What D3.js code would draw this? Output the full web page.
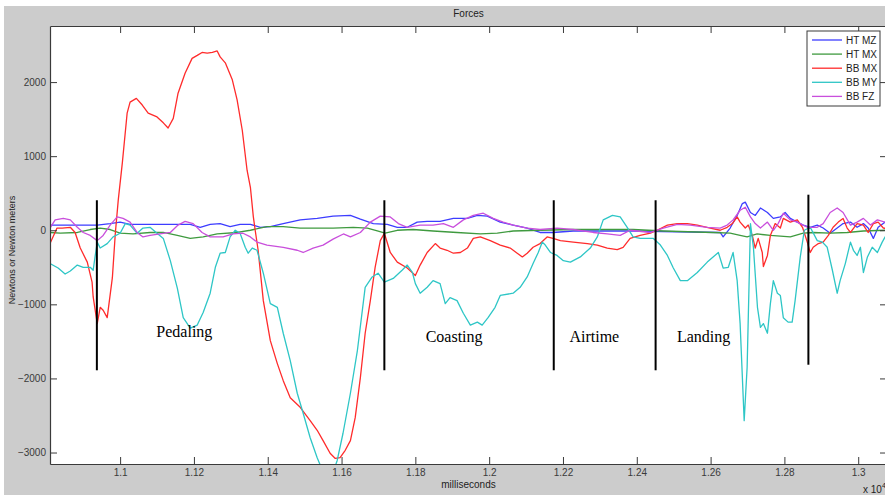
<!DOCTYPE html>
<html>
<head>
<meta charset="utf-8">
<script src="https://cdn.jsdelivr.net/npm/d3@7"></script>
<style>
  html, body { margin: 0; padding: 0; background: #ffffff; }
  svg { display: block; }
  text { font-family: Arial, "Liberation Sans", Helvetica, sans-serif; }
</style>
</head>
<body>
<script>
// Force / moment channels over one run, [time in ms, value]
const htMZ = [
  [10810,70],[10938,70],[10973,90],[11000,110],[11027,80],[11081,80],[11136,80],[11190,80],
  [11217,40],[11244,80],[11271,90],[11298,50],[11325,80],[11353,80],[11380,40],[11407,50],
  [11442,90],[11488,140],[11534,160],[11577,190],[11624,200],[11651,150],[11686,90],[11724,80],
  [11751,40],[11778,40],[11805,110],[11832,120],[11867,120],[11903,160],[11941,160],[11968,200],
  [11995,190],[12030,110],[12065,70],[12103,30],[12138,-30],[12173,-30],[12228,-10],[12301,-10],
  [12390,-10],[12626,-30],[12634,-90],[12653,30],[12672,200],[12686,360],[12694,380],[12708,240],
  [12721,200],[12735,300],[12754,240],[12770,160],[12789,180],[12802,240],[12816,160],[12835,110],
  [12851,70],[12870,40],[12889,70],[12905,30],[12924,-40],[12943,30],[12959,90],[12979,110],
  [12997,40],[13014,90],[13027,30],[13041,-110],[13054,40],[13073,110],[13085,100]
];
const htMX = [
  [10810,-30],[10838,-40],[10884,-30],[10919,10],[10946,30],[10973,10],[11000,-40],[11035,-50],
  [11081,-30],[11117,-30],[11155,-70],[11190,-110],[11225,-90],[11263,-50],[11317,-30],[11353,0],
  [11398,50],[11442,50],[11488,30],[11534,30],[11577,30],[11632,40],[11670,30],[11697,-10],
  [11718,-40],[11751,0],[11794,10],[11848,-10],[11913,-30],[11976,-50],[12022,-40],[12065,-10],
  [12138,0],[12228,10],[12320,10],[12390,10],[12472,-10],[12607,-30],[12653,-40],[12680,-70],
  [12699,-90],[12726,-50],[12762,-70],[12816,-90],[12851,-40],[12878,-30],[12924,-40],[12970,-30],
  [13014,-10],[13073,0],[13085,0]
];
const bbMX = [
  [10810,-180],[10829,30],[10843,30],[10865,40],[10878,-30],[10892,-240],[10911,-430],[10924,-700],
  [10927,-900],[10938,-1260],[10946,-1040],[10954,-1080],[10965,-1180],[10979,-640],[10987,-40],
  [10995,410],[11006,910],[11019,1580],[11027,1730],[11044,1780],[11060,1690],[11076,1580],
  [11100,1530],[11117,1450],[11130,1380],[11144,1510],[11157,1850],[11176,2120],[11195,2320],
  [11209,2360],[11222,2400],[11236,2390],[11250,2400],[11263,2420],[11271,2340],[11285,2260],
  [11304,2030],[11317,1760],[11331,1350],[11344,810],[11353,580],[11361,180],[11366,0],
  [11374,-270],[11388,-950],[11407,-1490],[11426,-1800],[11442,-2030],[11461,-2260],[11488,-2390],
  [11515,-2570],[11534,-2700],[11550,-2840],[11569,-3010],[11583,-3080],[11596,-3070],[11610,-2970],
  [11624,-2840],[11637,-2530],[11651,-1990],[11664,-1390],[11678,-950],[11691,-500],[11705,-140],
  [11716,-40],[11732,-300],[11751,-430],[11778,-510],[11800,-610],[11813,-470],[11832,-300],
  [11854,-180],[11867,-240],[11886,-270],[11903,-310],[11922,-300],[11941,-240],[11957,-110],
  [11976,-90],[12003,-140],[12030,-200],[12057,-240],[12076,-310],[12090,-360],[12103,-310],
  [12119,-230],[12138,-180],[12157,-90],[12173,-110],[12193,-140],[12228,-160],[12266,-180],
  [12293,-200],[12320,-240],[12347,-260],[12363,-230],[12382,-110],[12409,-70],[12437,-40],
  [12455,0],[12483,70],[12510,90],[12537,90],[12564,70],[12599,30],[12626,0],[12645,40],
  [12659,90],[12672,180],[12680,110],[12694,30],[12702,70],[12713,-70],[12721,-240],[12729,-110],
  [12740,-300],[12743,-490],[12754,-340],[12762,-70],[12775,90],[12789,30],[12797,160],[12816,110],
  [12835,140],[12849,40],[12862,-160],[12870,-300],[12878,-230],[12892,-180],[12905,-160],
  [12919,-70],[12932,40],[12946,110],[12959,160],[12970,30],[12979,-30],[12997,90],[13014,70],
  [13027,-30],[13041,90],[13054,110],[13068,30],[13085,20]
];
const bbMY = [
  [10810,-450],[10832,-510],[10851,-590],[10865,-550],[10884,-470],[10900,-500],[10919,-500],
  [10927,-540],[10932,-360],[10938,-160],[10946,-240],[10965,-180],[10981,-90],[11000,-40],
  [11014,90],[11027,70],[11046,-40],[11062,30],[11081,40],[11100,-40],[11117,-110],[11136,-410],
  [11155,-780],[11171,-1180],[11190,-1320],[11209,-1280],[11225,-1110],[11244,-850],[11258,-500],
  [11271,-310],[11285,-300],[11298,-90],[11312,0],[11325,-40],[11339,-230],[11347,-310],
  [11358,-240],[11371,-270],[11388,-580],[11407,-990],[11426,-1040],[11442,-1390],[11461,-1760],
  [11480,-2200],[11496,-2470],[11515,-2800],[11534,-3070],[11548,-3240],[11564,-3380],[11577,-3270],
  [11588,-3110],[11604,-2740],[11624,-2200],[11643,-1620],[11664,-770],[11683,-630],[11699,-580],
  [11716,-700],[11740,-650],[11764,-540],[11778,-470],[11792,-570],[11800,-720],[11813,-850],
  [11832,-770],[11848,-680],[11867,-720],[11881,-990],[11894,-910],[11913,-950],[11930,-1120],
  [11949,-1280],[11968,-1240],[11981,-1280],[11997,-1180],[12016,-1040],[12030,-880],[12065,-850],
  [12084,-770],[12103,-630],[12119,-450],[12133,-300],[12144,-160],[12152,-200],[12166,-300],
  [12184,-340],[12201,-410],[12220,-430],[12247,-360],[12274,-240],[12293,-90],[12309,140],
  [12334,200],[12355,180],[12374,40],[12390,-90],[12409,-110],[12428,-110],[12445,-110],
  [12464,-200],[12483,-340],[12499,-510],[12518,-680],[12537,-680],[12564,-570],[12591,-430],
  [12621,-300],[12634,-510],[12648,-500],[12661,-300],[12672,-680],[12680,-1260],[12691,-2570],
  [12699,-1850],[12708,90],[12716,-230],[12727,-1040],[12735,-1310],[12743,-1260],[12754,-1390],
  [12762,-990],[12770,-680],[12781,-850],[12789,-880],[12797,-1180],[12810,-1240],[12821,-1240],
  [12829,-950],[12843,-360],[12854,0],[12870,40],[12889,-140],[12903,-160],[12916,-230],
  [12930,-540],[12943,-850],[12951,-680],[12965,-450],[12979,-160],[12987,-270],[12997,-340],
  [13006,-230],[13014,-570],[13025,-360],[13038,-230],[13052,-300],[13065,-160],[13073,-90],
  [13085,-60]
];
const bbFZ = [
  [10810,30],[10824,140],[10846,160],[10865,140],[10884,40],[10900,-30],[10919,-70],[10938,-140],
  [10954,-70],[10973,70],[10992,180],[11008,160],[11027,110],[11046,-30],[11062,-90],[11081,-70],
  [11108,-50],[11136,-30],[11157,70],[11176,120],[11198,90],[11222,-30],[11244,-90],[11279,-90],
  [11306,-50],[11333,-40],[11353,-90],[11371,-160],[11398,-200],[11442,-230],[11480,-270],
  [11496,-300],[11523,-240],[11550,-200],[11577,-120],[11605,-50],[11624,-90],[11651,-30],
  [11678,110],[11705,190],[11732,180],[11754,90],[11778,40],[11813,70],[11848,70],[11876,90],
  [11903,40],[11930,140],[11957,200],[11984,230],[12011,160],[12038,110],[12065,70],[12103,30],
  [12138,10],[12184,30],[12228,10],[12282,-30],[12320,-50],[12355,-70],[12382,0],[12437,-30],
  [12472,30],[12510,80],[12545,70],[12591,40],[12626,30],[12645,70],[12661,140],[12680,270],
  [12694,310],[12708,180],[12721,90],[12735,30],[12754,110],[12770,0],[12783,90],[12797,230],
  [12816,140],[12835,110],[12862,40],[12889,40],[12905,90],[12924,240],[12943,300],[12959,240],
  [12979,70],[12997,110],[13014,160],[13033,70],[13052,140],[13073,110],[13085,100]
];

const seriesNames = ["HT MZ", "HT MX", "BB MX", "BB MY", "BB FZ"];
const seriesData = [htMZ, htMX, bbMX, bbMY, bbFZ];
const seriesColors = ["#3d3dff", "#3f9a3f", "#ff2b2b", "#2ec6c6", "#c94fdc"];

// Phase markers: boundary times and the vertical span of each marker
const phaseTimes = [10937, 11716, 12175, 12451, 12865];
const phaseTop = [405, 405, 405, 405, 480];
const phaseBottom = [-1890, -1890, -1890, -1890, -1815];

// Phase names with their anchor points
const phaseNames = ["Pedaling", "Coasting", "Airtime", "Landing"];
const phaseLabelTimes = [11174, 11905, 12285, 12581];
const phaseLabelValues = [-1440, -1510, -1510, -1510];

const xTicks = d3.range(11000, 13001, 200);
const yTicks = [-3000, -2000, -1000, 0, 1000, 2000];

const W = 885, H = 496;
const plot = { left: 50, top: 26, right: 887, bottom: 464 };

const svg = d3.select("body").append("svg").attr("width", W).attr("height", H);

// figure background
svg.append("rect").attr("width", W).attr("height", H).attr("fill", "#ffffff");
svg.append("rect").attr("x", 4).attr("y", 6).attr("width", W - 4).attr("height", H - 7).attr("fill", "#cccccc");
svg.append("rect")
  .attr("x", plot.left).attr("y", plot.top)
  .attr("width", plot.right - plot.left).attr("height", plot.bottom - plot.top)
  .attr("fill", "#ffffff");

const x = d3.scaleLinear().domain([10810, 13078]).range([plot.left, plot.right]);
const y = d3.scaleLinear().domain([-3155, 2757]).range([plot.bottom, plot.top]);

svg.append("clipPath").attr("id", "plotclip").append("rect")
  .attr("x", plot.left).attr("y", plot.top)
  .attr("width", plot.right - plot.left).attr("height", plot.bottom - plot.top);

const line = d3.line().x(d => x(d[0])).y(d => y(d[1]));

const curves = svg.append("g").attr("clip-path", "url(#plotclip)");
seriesData.forEach((s, i) => {
  curves.append("path")
    .datum(s)
    .attr("fill", "none")
    .attr("stroke", seriesColors[i])
    .attr("stroke-width", 1.3)
    .attr("stroke-linejoin", "round")
    .attr("d", line);
});

// phase boundaries
curves.selectAll("line.phase")
  .data(phaseTimes)
  .join("line")
  .attr("class", "phase")
  .attr("x1", d => x(d)).attr("x2", d => x(d))
  .attr("y1", (d, i) => y(phaseTop[i]))
  .attr("y2", (d, i) => y(phaseBottom[i]))
  .attr("stroke", "#000")
  .attr("stroke-width", 2);

svg.selectAll("text.phase")
  .data(phaseNames)
  .join("text")
  .attr("class", "phase")
  .attr("x", (d, i) => x(phaseLabelTimes[i]))
  .attr("y", (d, i) => y(phaseLabelValues[i]))
  .attr("text-anchor", "middle")
  .style("font-family", "'Liberation Serif', 'Times New Roman', serif")
  .style("font-size", "16px")
  .attr("fill", "#000")
  .text(d => d);

// axes with inward ticks on all four sides
const axisColor = "#3a3a3a";
const fmtX = d => String(+(d / 1e4).toFixed(2));

function styleAxis(g) {
  g.select(".domain").attr("stroke", axisColor);
  g.selectAll(".tick line").attr("stroke", axisColor);
  g.selectAll(".tick text").attr("fill", axisColor).style("font-size", "10px")
    .style("font-family", "Arial, 'Liberation Sans', sans-serif");
}

svg.append("g")
  .attr("transform", `translate(0,${plot.bottom})`)
  .call(d3.axisBottom(x).tickValues(xTicks).tickFormat(fmtX).tickSizeInner(-7).tickSizeOuter(0).tickPadding(5))
  .call(styleAxis);

svg.append("g")
  .attr("transform", `translate(0,${plot.top})`)
  .call(d3.axisTop(x).tickValues(xTicks).tickFormat("").tickSizeInner(-7).tickSizeOuter(0))
  .call(styleAxis);

svg.append("g")
  .attr("transform", `translate(${plot.left},0)`)
  .call(d3.axisLeft(y).tickValues(yTicks).tickFormat(d3.format("d")).tickSizeInner(-7).tickSizeOuter(0).tickPadding(4))
  .call(styleAxis);

svg.append("g")
  .attr("transform", `translate(${plot.right},0)`)
  .call(d3.axisRight(y).tickValues(yTicks).tickFormat("").tickSizeInner(-7).tickSizeOuter(0))
  .call(styleAxis);

svg.selectAll(".domain").attr("stroke-width", 1.2);

// titles
const cx = (plot.left + plot.right) / 2;
svg.append("text").attr("x", cx).attr("y", 17).attr("text-anchor", "middle")
  .style("font-size", "10px").attr("fill", "#222").text("Forces");

svg.append("text").attr("x", cx).attr("y", 488).attr("text-anchor", "middle")
  .style("font-size", "10px").attr("fill", "#222").text("milliseconds");

svg.append("text")
  .attr("transform", `translate(15,250) rotate(-90)`)
  .attr("text-anchor", "middle")
  .style("font-size", "9px").attr("fill", "#222")
  .text("Newtons or Newton meters");

const expo = svg.append("text").attr("x", 863).attr("y", 493)
  .style("font-size", "10px").attr("fill", "#222");
expo.append("tspan").text("x 10");
expo.append("tspan").attr("dy", -5).style("font-size", "7px").text("4");

// legend
const lg = svg.append("g").attr("transform", "translate(807,31)");
lg.append("rect").attr("width", 73).attr("height", 75)
  .attr("fill", "#ffffff").attr("stroke", axisColor).attr("stroke-width", 1);
seriesNames.forEach((name, i) => {
  const ry = 9 + i * 14.1;
  lg.append("line").attr("x1", 5).attr("x2", 35).attr("y1", ry).attr("y2", ry)
    .attr("stroke", seriesColors[i]).attr("stroke-width", 1.3);
  lg.append("text").attr("x", 39).attr("y", ry).attr("dy", "0.35em")
    .style("font-size", "10px").attr("fill", "#222").text(name);
});
</script>
</body>
</html>
